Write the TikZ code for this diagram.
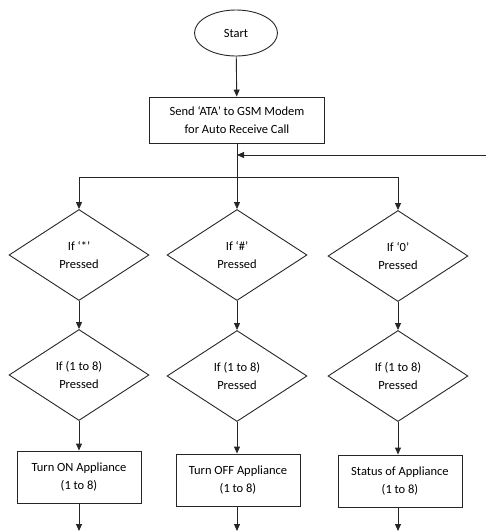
\documentclass[tikz,border=0pt]{standalone}
\usepackage{fontspec}
\setmainfont{Carlito}
\usetikzlibrary{shapes.geometric,arrows.meta}
\begin{document}
\begin{tikzpicture}[x=1pt,y=-1pt,
  line width=0.9pt,
  every node/.style={font=\fontsize{12.5}{18.5}\selectfont, align=center, draw=black!85, text=black},
  startnode/.style={ellipse, minimum width=83pt, minimum height=46pt, inner sep=0pt},
  procbox/.style={rectangle, minimum width=124pt, minimum height=52pt, inner sep=2pt},
  decision/.style={diamond, minimum width=140pt, minimum height=91pt, inner sep=0pt},
  flow/.style={draw=black!85, -{Triangle[length=7pt,width=6pt]}},
  plain/.style={draw=black!85}]
\useasboundingbox (0,0) rectangle (486,531);

% top of the chart
\node[startnode] (start) at (236,33) {Start};
\node[procbox, minimum width=175pt, minimum height=46pt] (ata) at (237,120)
  {Send ‘ATA’ to GSM Modem\\for Auto Receive Call};

% three decision columns
\node[decision] (d1) at (79,255) {If ‘*’\\Pressed};
\node[decision] (d2) at (237,255) {If ‘\#’\\Pressed};
\node[decision] (d3) at (398,256) {If ‘0’\\Pressed};

\node[decision] (k1) at (79,375) {If (1 to 8)\\Pressed};
\node[decision] (k2) at (237,376) {If (1 to 8)\\Pressed};
\node[decision] (k3) at (398,376) {If (1 to 8)\\Pressed};

\node[procbox] (a1) at (79,477) {Turn ON Appliance\\(1 to 8)};
\node[procbox] (a2) at (238,480) {Turn OFF Appliance\\(1 to 8)};
\node[procbox] (a3) at (400,481) {Status of Appliance\\(1 to 8)};

% junctions and loose ends
\coordinate (split) at (237,177);
\coordinate (back) at (486,155);
\coordinate (e1) at (79,531);
\coordinate (e2) at (238,531);
\coordinate (e3) at (400,531);

% connectors
\draw[flow] (start) -- (ata);
\draw[plain] (ata.south) -- (split);
\draw[flow] (back) -- (ata.south |- back);
\draw[flow] (split) -| (d1.north);
\draw[flow] (split) -- (d2.north);
\draw[flow] (split) -| (d3.north);

\draw[flow] (d1) -- (k1);
\draw[flow] (d2) -- (k2);
\draw[flow] (d3) -- (k3);

\draw[flow] (k1.south) -- (k1.south |- a1.north);
\draw[flow] (k2.south) -- (k2.south |- a2.north);
\draw[flow] (k3.south) -- (k3.south |- a3.north);

\draw[flow] (a1.south -| k1.south) -- (e1);
\draw[flow] (a2.south -| k2.south) -- (e2 -| k2.south);
\draw[flow] (a3.south -| k3.south) -- (e3 -| k3.south);
\end{tikzpicture}
\end{document}
